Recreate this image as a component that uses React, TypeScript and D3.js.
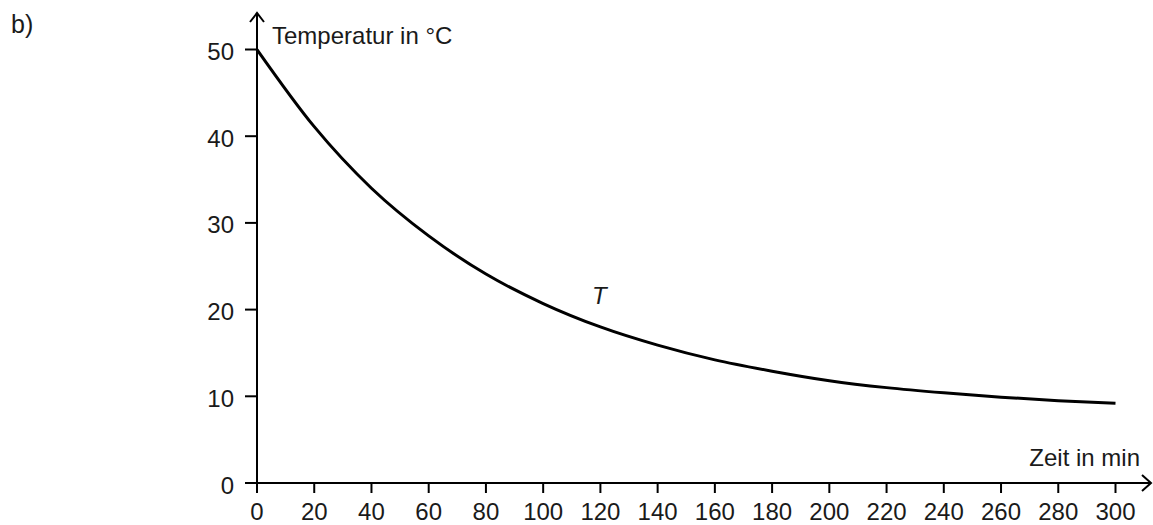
import React from "react";
import * as d3 from "d3";

const times = [0, 20, 40, 60, 80, 100, 120, 140, 160, 180, 200, 220, 240, 260, 280, 300];
const temps = [50, 41.1, 34.0, 28.5, 24.1, 20.7, 18.0, 15.9, 14.2, 12.9, 11.8, 11.0, 10.4, 9.9, 9.5, 9.2];
const xTicks = [0, 20, 40, 60, 80, 100, 120, 140, 160, 180, 200, 220, 240, 260, 280, 300];
const yTicks = [0, 10, 20, 30, 40, 50];
const xLabel = "Zeit in min";
const yLabel = "Temperatur in °C";
const seriesLabel = "T";
const partLabel = "b)";

const W = 1153;
const H = 525;
const FONT = "'Liberation Sans', Arial, Helvetica, sans-serif";

export default function App() {
  const x = d3.scaleLinear().domain([0, 300]).range([257, 1115.5]);
  const y = d3.scaleLinear().domain([0, 50]).range([483, 49.5]);
  const pts: [number, number][] = times.map((t, i) => [t, temps[i]]);
  const line = d3
    .line<[number, number]>()
    .x((d) => x(d[0]))
    .y((d) => y(d[1]))
    .curve(d3.curveMonotoneX);

  const x0 = x(0);
  const y0 = y(0);
  const xEnd = 1151;
  const yTop = 13;
  const txt = "#1a1a1a";

  return (
    <svg
      width={W}
      height={H}
      viewBox={`0 0 ${W} ${H}`}
      style={{ position: "absolute", left: 0, top: 0, background: "#fff" }}
      fontFamily={FONT}
    >
      <text x={11} y={33} fontSize={25} fill={txt}>
        {partLabel}
      </text>

      {/* axes */}
      <line x1={x0} y1={y0 + 10} x2={x0} y2={yTop} stroke="#000" strokeWidth={2} />
      <line x1={x0 - 12} y1={y0} x2={xEnd} y2={y0} stroke="#000" strokeWidth={2} />
      <polyline
        points={`${x0 - 7},${yTop + 9} ${x0},${yTop} ${x0 + 7},${yTop + 9}`}
        fill="none"
        stroke="#000"
        strokeWidth={2}
      />
      <polyline
        points={`${xEnd - 9},${y0 - 8} ${xEnd},${y0} ${xEnd - 9},${y0 + 8}`}
        fill="none"
        stroke="#000"
        strokeWidth={2}
      />

      {/* x ticks */}
      {xTicks.map((t) => (
        <g key={"x" + t}>
          <line x1={x(t)} y1={y0} x2={x(t)} y2={y0 + 10} stroke="#000" strokeWidth={2} />
          <text x={x(t)} y={520} textAnchor="middle" fontSize={24} fill={txt}>
            {t}
          </text>
        </g>
      ))}

      {/* y ticks */}
      {yTicks.map((v) => (
        <g key={"y" + v}>
          <line x1={x0 - 12} y1={y(v)} x2={x0} y2={y(v)} stroke="#000" strokeWidth={2} />
          <text x={234} y={y(v) + 10.5} textAnchor="end" fontSize={24} fill={txt}>
            {v}
          </text>
        </g>
      ))}

      <text x={272} y={44} fontSize={24} fill={txt}>
        {yLabel}
      </text>
      <text x={1140} y={466} textAnchor="end" fontSize={24} fill={txt}>
        {xLabel}
      </text>

      <path d={line(pts) || ""} fill="none" stroke="#000" strokeWidth={3} />

      <text x={592} y={304} fontSize={24} fontStyle="italic" fill={txt}>
        {seriesLabel}
      </text>
    </svg>
  );
}
